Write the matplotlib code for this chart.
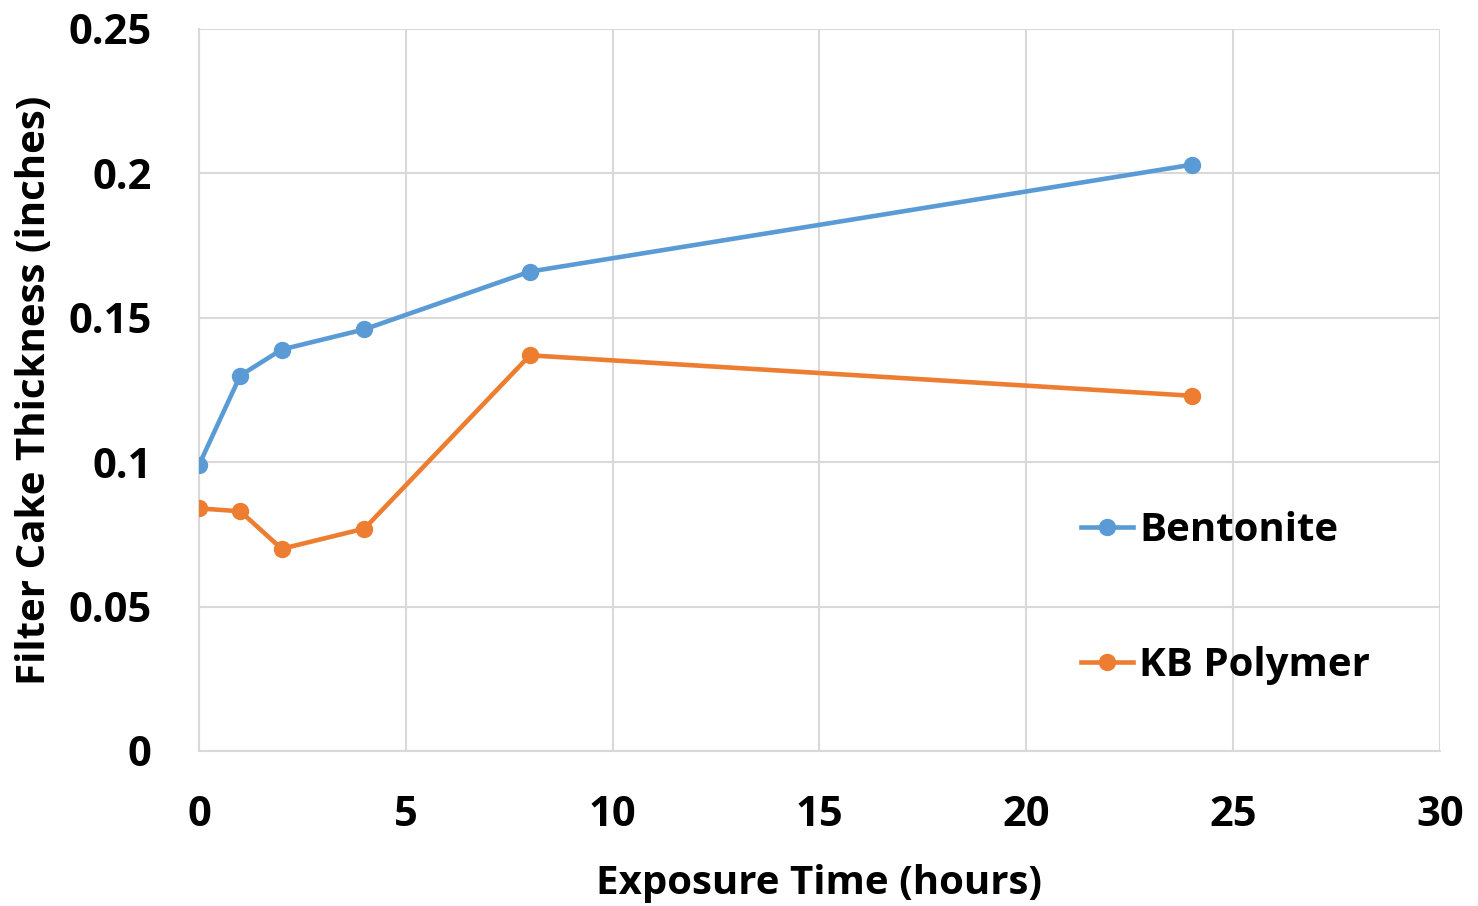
import matplotlib.pyplot as plt

# exposure time (hours) and filter cake thickness (inches)
hours = [0, 1, 2, 4, 8, 24]
bentonite = [0.099, 0.130, 0.139, 0.146, 0.166, 0.203]
kb_polymer = [0.084, 0.083, 0.070, 0.077, 0.137, 0.123]

x_ticks = [0, 5, 10, 15, 20, 25, 30]
y_ticks = [0, 0.05, 0.1, 0.15, 0.2, 0.25]
y_labels = ["0", "0.05", "0.1", "0.15", "0.2", "0.25"]

plt.rcParams['font.family'] = ['Open Sans', 'DejaVu Sans']
plt.rcParams['font.weight'] = 'bold'

fig = plt.figure(figsize=(14.78, 9.06), dpi=100)
ax = fig.add_axes([0.1346, 0.1711, 0.8397, 0.7969])

ax.plot(hours, bentonite, color='#5B9BD5', lw=3.3, marker='o', ms=11.5, label='Bentonite', zorder=3)
ax.plot(hours, kb_polymer, color='#ED7D31', lw=3.3, marker='o', ms=11.5, label='KB Polymer', zorder=3)

ax.set_xlim(0, 30)
ax.set_ylim(0, 0.25)
ax.set_xticks(x_ticks)
ax.set_yticks(y_ticks)
ax.set_yticklabels(y_labels)
ax.grid(True, color='#D9D9D9', lw=1.5)
ax.set_axisbelow(True)
for s in ['top', 'right']:
    ax.spines[s].set_visible(False)
for s in ['left', 'bottom']:
    ax.spines[s].set_color('#D9D9D9')
    ax.spines[s].set_linewidth(1.5)
ax.tick_params(length=0, labelsize=30)
ax.tick_params(axis='x', pad=32)
ax.tick_params(axis='y', pad=34)

ax.set_xlabel('Exposure Time (hours)', fontsize=29, fontweight='bold', labelpad=20)
ax.set_ylabel('Filter Cake Thickness (inches)', fontsize=29, fontweight='bold', labelpad=10)

ax.legend(loc='upper left', bbox_to_anchor=(0.6975, 0.355), frameon=False,
          fontsize=29, labelspacing=2.4, handlelength=1.3, handletextpad=0.15,
          borderaxespad=0)

fig.savefig('out.png', dpi=100)
